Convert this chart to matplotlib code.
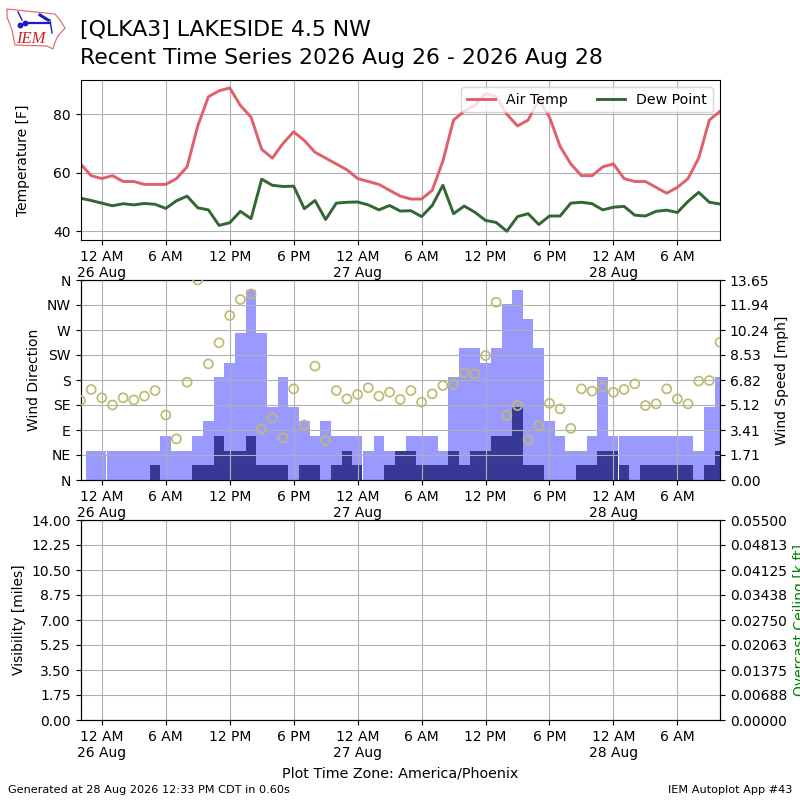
import numpy as np
from matplotlib import pyplot as plt
from matplotlib.patches import Polygon

# hours relative to midnight 26 Aug, America/Phoenix
hours = list(range(-2, 59))

temp = [63, 59, 58, 59, 57, 57, 56, 56, 56, 58, 62, 76, 86, 88, 89, 83, 79, 68, 65, 70,
        74, 71, 67, 65, 63, 61, 58, 57, 56, 54, 52, 51, 51, 54, 64, 78, 81, 83, 87, 86,
        80, 76, 78, 85, 79, 69, 63, 59, 59, 62, 63, 58, 57, 57, 55, 53, 55, 58, 65, 78, 81]
dewp = [51.3, 50.5, 49.6, 48.7, 49.4, 49, 49.5, 49.2, 47.8, 50.4, 52, 48, 47.3, 42, 42.9,
        46.8, 44.3, 57.8, 55.7, 55.3, 55.4, 47.7, 50.5, 44, 49.6, 49.9, 50, 49, 47.3, 48.8,
        46.9, 47, 45, 48.8, 55.7, 46, 48.6, 46.5, 43.7, 43, 40, 45, 46, 42.3, 45.2, 45.2,
        49.6, 49.9, 49.4, 47.3, 48.2, 48.5, 45.5, 45.2, 46.8, 47.2, 46.4, 50.2, 53.3, 49.9, 49.3]
wdir = [143, 163, 148, 135, 148, 144, 151, 161, 117, 74, 176, 360, 209, 247, 296, 325, 335,
        92, 112, 76, 164, 99, 205, 71, 161, 146, 154, 166, 151, 158, 145, 161, 140, 155, 170,
        172, 193, 191, 224, 320, 116, 134, 73, 98, 138, 128, 93, 164, 160, 167, 158, 163, 173,
        134, 137, 164, 146, 137, 178, 179, 248]
gust = [0, 2, 2, 2, 2, 2, 2, 2, 3, 2, 2, 3, 4, 7, 8, 10, 13, 10, 5, 7, 5, 4, 3, 4, 3, 3, 3,
        2, 3, 2, 2, 3, 3, 3, 2, 7, 9, 9, 8, 9, 12, 13, 11, 9, 4, 3, 2, 2, 3, 7, 3, 3, 3, 3,
        3, 3, 3, 3, 2, 5, 7]
sped = [0, 0, 0, 0, 0, 0, 0, 1, 0, 0, 0, 1, 1, 3, 2, 2, 3, 1, 1, 1, 0, 1, 1, 0, 1, 2, 1,
        0, 0, 1, 2, 2, 1, 1, 1, 2, 1, 2, 2, 3, 3, 5, 1, 1, 0, 0, 0, 1, 1, 2, 2, 1, 0, 1,
        1, 1, 1, 1, 0, 1, 2]

tick_hours = list(range(0, 59, 6))
tick_labels = ['12 AM\n26 Aug', '6 AM', '12 PM', '6 PM', '12 AM\n27 Aug', '6 AM', '12 PM',
               '6 PM', '12 AM\n28 Aug', '6 AM']
dir_labels = ['N', 'NE', 'E', 'SE', 'S', 'SW', 'W', 'NW', 'N']
speed_labels = ['0.00', '1.71', '3.41', '5.12', '6.82', '8.53', '10.24', '11.94', '13.65']
vis_labels = ['0.00', '1.75', '3.50', '5.25', '7.00', '8.75', '10.50', '12.25', '14.00']
ceil_labels = ['0.00000', '0.00688', '0.01375', '0.02063', '0.02750', '0.03438', '0.04125',
               '0.04813', '0.05500']

# the midnight obs sit a little early, which leaves the thin white gap in the bars
bar_hours = np.array(hours, dtype=float)
bar_hours[[2, 26, 50]] -= 0.09

xlim = (-2, 58)


def panel(top, height):
    # pixel box to figure fraction
    return fig.add_axes([80.5 / 800, 1 - (top + height) / 800, 639.5 / 800, height / 800])


def set_time_axis(ax):
    ax.set_xlim(xlim)
    ax.set_xticks(tick_hours)
    ax.set_xticklabels(tick_labels)
    ax.grid(True, color='#b0b0b0', linewidth=0.8)


fig = plt.figure(figsize=(8, 8), dpi=100)

fig.text(80 / 800, 1 - 36 / 800, '[QLKA3] LAKESIDE 4.5 NW', fontsize=15.85)
fig.text(80 / 800, 1 - 64 / 800, 'Recent Time Series 2026 Aug 26 - 2026 Aug 28', fontsize=15.85)
fig.text(8 / 800, 1 - 793 / 800, 'Generated at 28 Aug 2026 12:33 PM CDT in 0.60s', fontsize=8.15)
fig.text(792 / 800, 1 - 793 / 800, 'IEM Autoplot App #43', fontsize=8.15, ha='right')

# iowa outline logo, drawn in figure pixels
logo = fig.add_axes([0, 1 - 52 / 800, 72 / 800, 52 / 800])
logo.set_xlim(0, 72)
logo.set_ylim(52, 0)
logo.axis('off')
logo.add_patch(Polygon([(7, 9), (55, 14), (60, 20), (65, 28), (58, 36), (55, 42), (53, 49),
                        (47, 46), (15, 45), (12, 30), (7, 17)],
                       closed=True, fill=False, edgecolor='#e07070', linewidth=0.9))
logo.plot([25, 50], [23, 23], color='#1a1acc', linewidth=1.6)
logo.plot([18, 22], [12, 20], color='#1a1acc', linewidth=1)
logo.plot([40, 48], [15, 20], color='#1a1acc', linewidth=2.2)
logo.plot([50, 52], [20, 33], color='#1a1acc', linewidth=1)
logo.plot([25, 20], [23, 25], 'o', color='#1a1acc', markersize=3.2)
logo.text(31, 43, 'IEM', color='#d02020', fontsize=12, style='italic', family='Liberation Serif',
          ha='center')

# temperature
ax1 = panel(80, 160)
ax1.plot(hours, temp, color='#e0606a', linewidth=2.1, label='Air Temp')
ax1.plot(hours, dewp, color='#336633', linewidth=2.1, label='Dew Point')
set_time_axis(ax1)
ax1.set_ylim(37, 91.7)
ax1.set_yticks([40, 60, 80])
ax1.set_ylabel('Temperature [F]', labelpad=17)
ax1.legend(loc='upper right', ncol=2, columnspacing=2.0, fontsize=10.2)

# wind, bars go on the lower twin so the grid stays on top of them
ax2 = panel(280, 200)
ax2b = ax2.twinx()
ax2.set_zorder(ax2b.get_zorder() + 1)
ax2.patch.set_visible(False)
ax2b.bar(bar_hours, gust, width=1.0, color='#9999ff')
ax2b.bar(bar_hours, sped, width=1.0, color='#383896')
ax2.scatter(hours, wdir, s=42, facecolor='none', edgecolor='#bdbb72', linewidth=1.25, zorder=3)
set_time_axis(ax2)
ax2.set_ylim(0, 360)
ax2.set_yticks(range(0, 361, 45))
ax2.set_yticklabels(dir_labels)
ax2.set_ylabel('Wind Direction')
ax2b.set_ylim(0, 13.65)
ax2b.set_yticks(np.arange(9) * 13.65 / 8)
ax2b.set_yticklabels(speed_labels)
ax2b.set_ylabel('Wind Speed [mph]')

# visibility and ceiling, nothing reported
ax3 = panel(520, 200)
ax3b = ax3.twinx()
set_time_axis(ax3)
ax3.set_ylim(0, 14)
ax3.set_yticks(np.arange(9) * 1.75)
ax3.set_yticklabels(vis_labels)
ax3.set_ylabel('Visibility [miles]')
ax3b.set_ylim(0, 0.055)
ax3b.set_yticks(np.arange(9) * 0.055 / 8)
ax3b.set_yticklabels(ceil_labels)
ax3b.set_ylabel('Overcast Ceiling [k ft]', color='green')
ax3.set_xlabel('Plot Time Zone: America/Phoenix', fontsize=10.25, labelpad=5)

fig.savefig('out.png', dpi=100)
